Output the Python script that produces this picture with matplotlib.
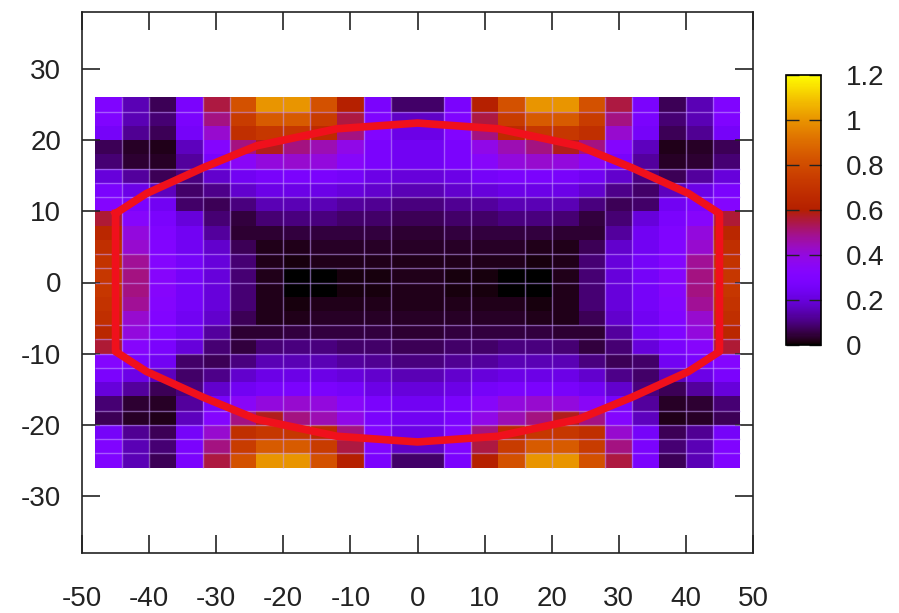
import numpy as np
import matplotlib
matplotlib.use('Agg')
import matplotlib.pyplot as plt

plt.rcParams['font.family'] = ['Liberation Sans', 'DejaVu Sans']
plt.rcParams['axes.unicode_minus'] = False

# map values, upper left quarter, top row first (the picture is mirrored both ways)
quarter = np.array([
    [.30, .15, .07, .28, .55, .82, 1.0, 1.0, .82, .60, .28, .08],
    [.30, .15, .09, .28, .50, .74, .85, .85, .74, .55, .30, .17],
    [.26, .12, .07, .26, .42, .68, .72, .72, .66, .50, .31, .22],
    [.07, .03, .02, .16, .32, .50, .58, .50, .45, .38, .28, .24],
    [.09, .04, .03, .13, .27, .35, .40, .42, .40, .34, .28, .24],
    [.20, .13, .07, .10, .18, .24, .27, .28, .28, .26, .22, .20],
    [.28, .22, .16, .08, .11, .18, .22, .22, .22, .20, .18, .15],
    [.32, .28, .24, .08, .07, .10, .15, .15, .15, .13, .12, .10],
    [.56, .33, .28, .20, .09, .05, .09, .10, .10, .08, .08, .07],
    [.64, .40, .30, .24, .13, .04, .04, .05, .05, .05, .05, .04],
    [.68, .42, .31, .24, .18, .07, .02, .02, .03, .03, .03, .03],
    [.70, .48, .32, .26, .20, .09, .02, .01, .02, .02, .02, .02],
    [.72, .50, .33, .26, .20, .09, .02, .00, .00, .01, .01, .02],
])
x_edges = np.arange(-48, 49, 4)
y_edges = np.arange(26, -27, -2)

# light lines over the map
grid_x = [-44, -40, -32, -28, -20, -16, -8, -4, 4, 8, 16, 20, 28, 32, 40, 44]
grid_y = [24, 16, 14, 12, 4, 2, 0, -6, -8, -10, -12, -18, -20, -22, -24]

# red outline
curve_x = [-45, -40.4, -32, -24, -12, 0, 12, 24, 32, 40.4, 45, 45, 40.4, 32, 24, 12, 0, -12, -24, -32, -40.4, -45, -45]
curve_y = [9.7, 12.5, 16.1, 19.2, 21.6, 22.4, 21.6, 19.2, 16.1, 12.5, 9.7, -9.7, -12.5, -16.1, -19.2, -21.6, -22.4, -21.6, -19.2, -16.1, -12.5, -9.7, 9.7]

xticks = [-50, -40, -30, -20, -10, 0, 10, 20, 30, 40, 50]
yticks = [-30, -20, -10, 0, 10, 20, 30]
cbar_ticks = [0, 0.2, 0.4, 0.6, 0.8, 1, 1.2]
cbar_labels = ['0', '0.2', '0.4', '0.6', '0.8', '1', '1.2']

W, H = 899, 613
fig = plt.figure(figsize=(W / 100, H / 100), dpi=100)
ax = fig.add_axes([82 / W, 1 - 553 / H, 671 / W, 541 / H])

values = np.hstack([quarter, quarter[:, ::-1]])
values = np.vstack([values, values[::-1]])
mesh = ax.pcolormesh(x_edges, y_edges, values, cmap='gnuplot', vmin=0, vmax=1.2)

ax.vlines(grid_x, -26, 26, color='#c8a0ff', lw=1, alpha=0.55)
ax.hlines(grid_y, -48, 48, color='#c8a0ff', lw=1, alpha=0.55)
ax.plot(curve_x, curve_y, color='#f0101c', lw=5.5, solid_joinstyle='round')

ax.set_xlim(-50, 50)
ax.set_ylim(-38, 38)
ax.set_xticks(xticks)
ax.set_yticks(yticks)
ax.tick_params(direction='in', length=13, width=1.2, top=True, right=True, labelsize=20, color='#222222', labelcolor='#222222')
ax.tick_params(axis='x', pad=24)
ax.tick_params(axis='y', pad=15)
for s in ax.spines.values():
    s.set_linewidth(1.2)
    s.set_color('#222222')

cax = fig.add_axes([786 / W, 1 - 345 / H, 35 / W, 270 / H])
cb = fig.colorbar(mesh, cax=cax)
cb.set_ticks(cbar_ticks)
cb.set_ticklabels(cbar_labels)
cax.tick_params(direction='in', length=9, width=1, left=True, right=True, labelsize=20, pad=18, color='#222222', labelcolor='#222222')
cb.outline.set_linewidth(1.2)

fig.savefig('out.png', dpi=100)
